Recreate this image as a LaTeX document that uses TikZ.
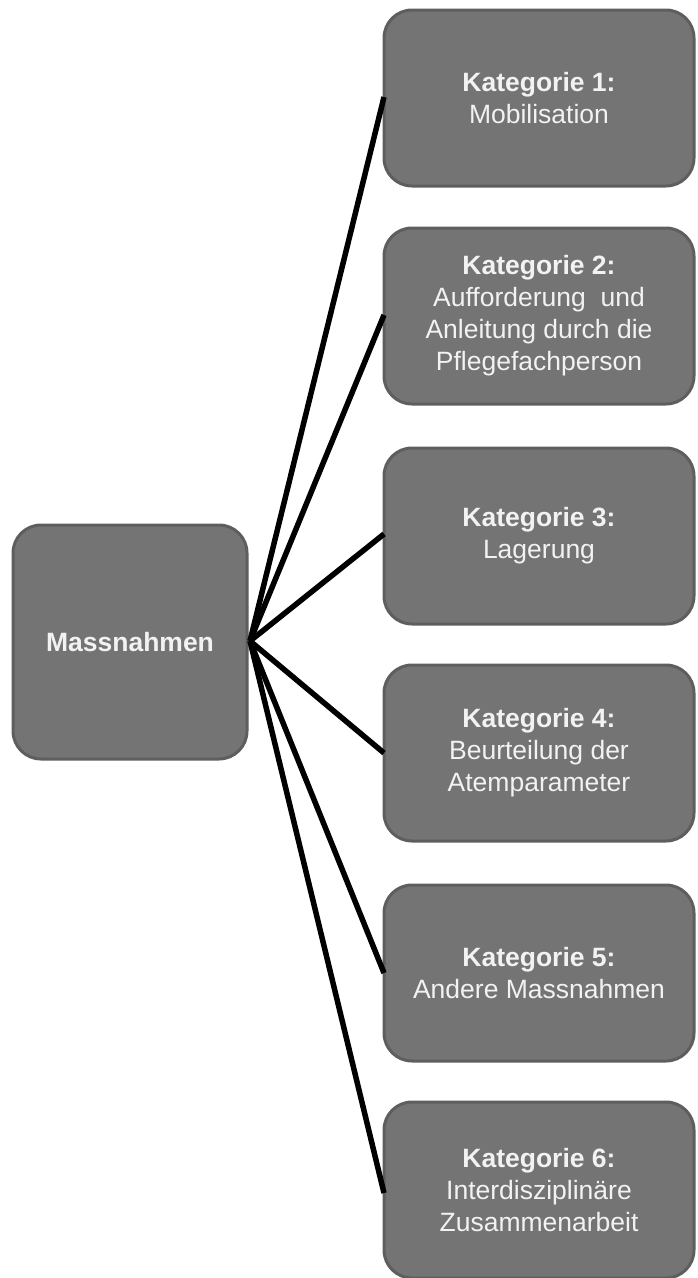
\documentclass[tikz,border=0pt]{standalone}
\usepackage{fontspec}
\setmainfont{Liberation Sans}
\definecolor{boxfill}{HTML}{747474}
\definecolor{boxline}{HTML}{5E5E5E}
\definecolor{boxtext}{HTML}{F2F2F2}
\begin{document}
\begin{tikzpicture}[x=1pt,y=-1pt,
  box/.style={draw=boxline, line width=3pt, fill=boxfill, rounded corners=28pt,
    text=boxtext, align=center, inner sep=0pt, font=\fontsize{26.5}{32}\selectfont},
  catbox/.style={box, minimum width=310pt, minimum height=176pt},
  mainbox/.style={box, minimum width=234pt, minimum height=234pt},
  link/.style={line width=5.5pt, black}]
\useasboundingbox (0,0) rectangle (698,1278);
\fill[white] (0,0) rectangle (698,1278);
\node[mainbox] (m) at (130,642) {\textbf{Massnahmen}};
\coordinate (hub) at (250,641);
\node[catbox] (k1) at (539,98) {\textbf{Kategorie 1:}\\Mobilisation};
\node[catbox] (k2) at (539,316) {\textbf{Kategorie 2:}\\Aufforderung\ \ und\\Anleitung durch die\\Pflegefachperson};
\node[catbox] (k3) at (539,536) {\textbf{Kategorie 3:}\\Lagerung};
\node[catbox] (k4) at (539,753) {\textbf{Kategorie 4:}\\Beurteilung der\\Atemparameter};
\node[catbox] (k5) at (539,973) {\textbf{Kategorie 5:}\\Andere Massnahmen};
\node[catbox] (k6) at (539,1190) {\textbf{Kategorie 6:}\\Interdisziplinäre\\Zusammenarbeit};
\coordinate (e1) at (384,97);
\coordinate (e2) at (384,315);
\coordinate (e3) at (384,534);
\coordinate (e4) at (384,753);
\coordinate (e5) at (384,973);
\coordinate (e6) at (384,1193);
\foreach \i in {1,...,6} \draw[link] (hub) -- (e\i);
\end{tikzpicture}
\end{document}
